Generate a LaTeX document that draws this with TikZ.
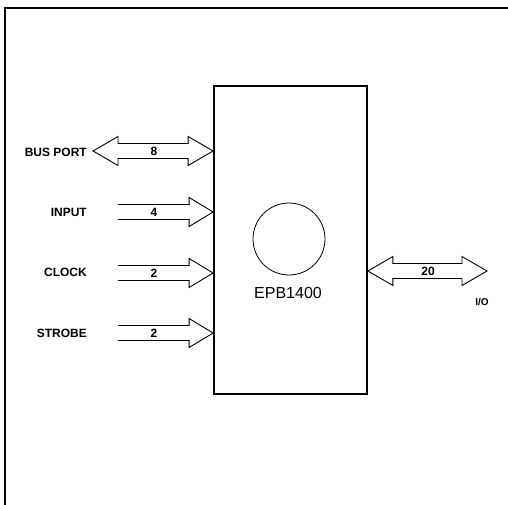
\documentclass[tikz,border=0pt]{standalone}
\usepackage{fontspec}
\setmainfont{Liberation Sans}
\usetikzlibrary{calc,positioning}

% block arrow with open tail, from #1 to the tip #2
\newcommand{\inarrow}[2]{%
  \draw[blk] ($(#1)+(0,-7.5)$) -- ($(#2)+(-24,-7.5)$) -- ($(#2)+(-24,-14.5)$) -- (#2)
    -- ($(#2)+(-24,14.5)$) -- ($(#2)+(-24,7.5)$) -- ($(#1)+(0,7.5)$);}
% block arrow with two heads, from tip #1 to tip #2
\newcommand{\busarrow}[2]{%
  \draw[blk] (#1) -- ($(#1)+(25,-14.5)$) -- ($(#1)+(25,-7.5)$) -- ($(#2)+(-25,-7.5)$)
    -- ($(#2)+(-25,-14.5)$) -- (#2) -- ($(#2)+(-25,14.5)$) -- ($(#2)+(-25,7.5)$)
    -- ($(#1)+(25,7.5)$) -- ($(#1)+(25,14.5)$) -- cycle;}

\begin{document}
\begin{tikzpicture}[
    x=1pt, y=-1pt,
    frame/.style={line width=2pt},
    chip/.style={draw, line width=1.8pt, minimum width=153pt, minimum height=308pt, inner sep=0pt},
    blk/.style={line width=0.9pt, line join=miter},
    sig/.style={font=\fontsize{12}{12}\selectfont\bfseries, anchor=east, inner sep=0pt},
    width/.style={font=\fontsize{12}{12}\selectfont\bfseries, inner sep=0pt},
]
\useasboundingbox (0,0) rectangle (508,505);

% === FRAME ===
\draw[frame] (5,505) -- (5,8) -- (508,8);

% === DEVICE ===
\node[chip] (epb) at (290.5,240) {};
\node[draw, circle, line width=0.8pt, minimum size=72pt, inner sep=0pt] (lamp) at (289,239) {};
\node[font=\fontsize{16}{16}\selectfont, inner sep=0pt] (name) at (288,293) {EPB1400};

% === INPUT SIDE ===
\node[sig] (bus) at (87,152) {BUS PORT};
\node[sig] (in) at (87,212) {INPUT};
\node[sig] (clk) at (87,272) {CLOCK};
\node[sig] (stb) at (87,333) {STROBE};

\coordinate (busL) at (93,151);
\coordinate (inL) at (118,212);
\coordinate (clkL) at (118,273);
\coordinate (stbL) at (118,333);

\busarrow{busL}{epb.west |- busL}
\inarrow{inL}{epb.west |- inL}
\inarrow{clkL}{epb.west |- clkL}
\inarrow{stbL}{epb.west |- stbL}

\node[width] (n8) at (154,151) {8};
\node[width] (n4) at (154,212) {4};
\node[width] (n2a) at (154,273) {2};
\node[width] (n2b) at (154,333) {2};

% === OUTPUT SIDE ===
\coordinate (ioR) at (487,271);
\busarrow{epb.east |- ioR}{ioR}
\node[width] (n20) at (428,271) {20};
\node[font=\fontsize{10}{10}\selectfont\bfseries, inner sep=0pt] (io) at (482,302) {I/O};

\end{tikzpicture}
\end{document}
